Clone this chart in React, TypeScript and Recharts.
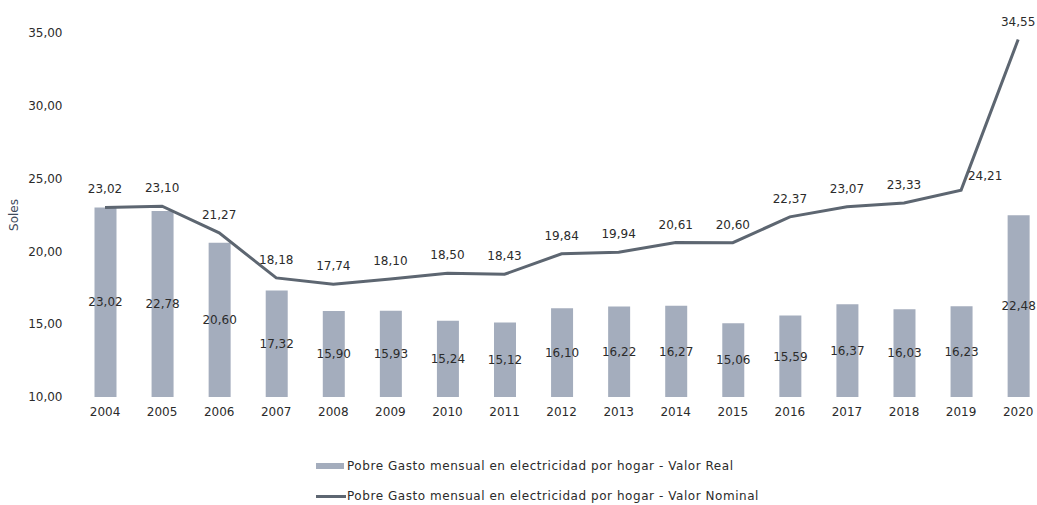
import React from "react";
import {
  Bar,
  ComposedChart,
  LabelList,
  Line,
  XAxis,
  YAxis,
} from "recharts";

const years = [
  2004, 2005, 2006, 2007, 2008, 2009, 2010, 2011, 2012, 2013, 2014, 2015, 2016,
  2017, 2018, 2019, 2020,
];
const valorReal = [
  23.02, 22.78, 20.6, 17.32, 15.9, 15.93, 15.24, 15.12, 16.1, 16.22, 16.27,
  15.06, 15.59, 16.37, 16.03, 16.23, 22.48,
];
const valorNominal = [
  23.02, 23.1, 21.27, 18.18, 17.74, 18.1, 18.5, 18.43, 19.84, 19.94, 20.61,
  20.6, 22.37, 23.07, 23.33, 24.21, 34.55,
];
const yTicks = [10, 15, 20, 25, 30, 35];

const data = years.map((year, i) => ({
  year,
  real: valorReal[i],
  nominal: valorNominal[i],
}));

const BAR_COLOR = "#a4adbd";
const LINE_COLOR = "#5d6671";
const TEXT = "#2b2b2b";
const FONT = "'DejaVu Sans', sans-serif";

const fmt = (v: number) => v.toFixed(2).replace(".", ",");

// the 2019 label sits to the right of the point in the original
function NominalLabel(props: any) {
  const { x, y, value, index } = props;
  const shift = index === 15 ? 24 : 0;
  return (
    <text
      x={x + shift}
      y={y - (index === 15 ? 10 : 14)}
      textAnchor="middle"
      fontSize={12}
      fontFamily={FONT}
      fill={TEXT}
    >
      {fmt(value)}
    </text>
  );
}

export default function App() {
  return (
    <div
      style={{
        position: "absolute",
        left: 0,
        top: 0,
        width: 1037,
        height: 505,
        background: "#fff",
        fontFamily: FONT,
      }}
    >
      <ComposedChart
        width={1037}
        height={505}
        data={data}
        margin={{ top: 33, right: 0, bottom: 78, left: 0 }}
      >
        <XAxis
          dataKey="year"
          type="number"
          domain={[2003.5, 2020.33]}
          ticks={years}
          allowDataOverflow
          axisLine={false}
          tickLine={false}
          tickMargin={4}
          height={30}
          tick={{ fontSize: 12, fill: TEXT, fontFamily: FONT }}
        />
        <YAxis
          domain={[10, 35]}
          ticks={yTicks}
          width={76.5}
          axisLine={false}
          tickLine={false}
          tickMargin={8}
          tickFormatter={fmt}
          tick={{ fontSize: 12, fill: TEXT, fontFamily: FONT }}
          label={{
            value: "Soles",
            angle: -90,
            position: "insideLeft",
            offset: 14,
            style: { fontSize: 12, fill: "#3d4a5c", fontFamily: FONT, textAnchor: "middle" },
          }}
        />
        <Bar dataKey="real" fill={BAR_COLOR} barSize={22} isAnimationActive={false}>
          <LabelList
            dataKey="real"
            position="center"
            formatter={(v: any) => fmt(Number(v))}
            style={{ fontSize: 12, fill: TEXT, fontFamily: FONT }}
          />
        </Bar>
        <Line
          dataKey="nominal"
          stroke={LINE_COLOR}
          strokeWidth={3}
          dot={false}
          type="linear"
          isAnimationActive={false}
        >
          <LabelList dataKey="nominal" content={NominalLabel} />
        </Line>
      </ComposedChart>
      <div
        style={{
          position: "absolute",
          left: 316,
          top: 457,
          fontSize: 12,
          letterSpacing: 0.55,
          color: TEXT,
          lineHeight: "18px",
        }}
      >
        <div style={{ display: "flex", alignItems: "center", height: 18 }}>
          <span
            style={{
              display: "inline-block",
              width: 28,
              height: 6,
              background: BAR_COLOR,
              marginRight: 3,
            }}
          />
          Pobre Gasto mensual en electricidad por hogar - Valor Real
        </div>
        <div style={{ display: "flex", alignItems: "center", height: 18, marginTop: 12 }}>
          <span
            style={{
              display: "inline-block",
              width: 30,
              height: 3,
              background: LINE_COLOR,
              marginRight: 1,
            }}
          />
          Pobre Gasto mensual en electricidad por hogar - Valor Nominal
        </div>
      </div>
    </div>
  );
}
